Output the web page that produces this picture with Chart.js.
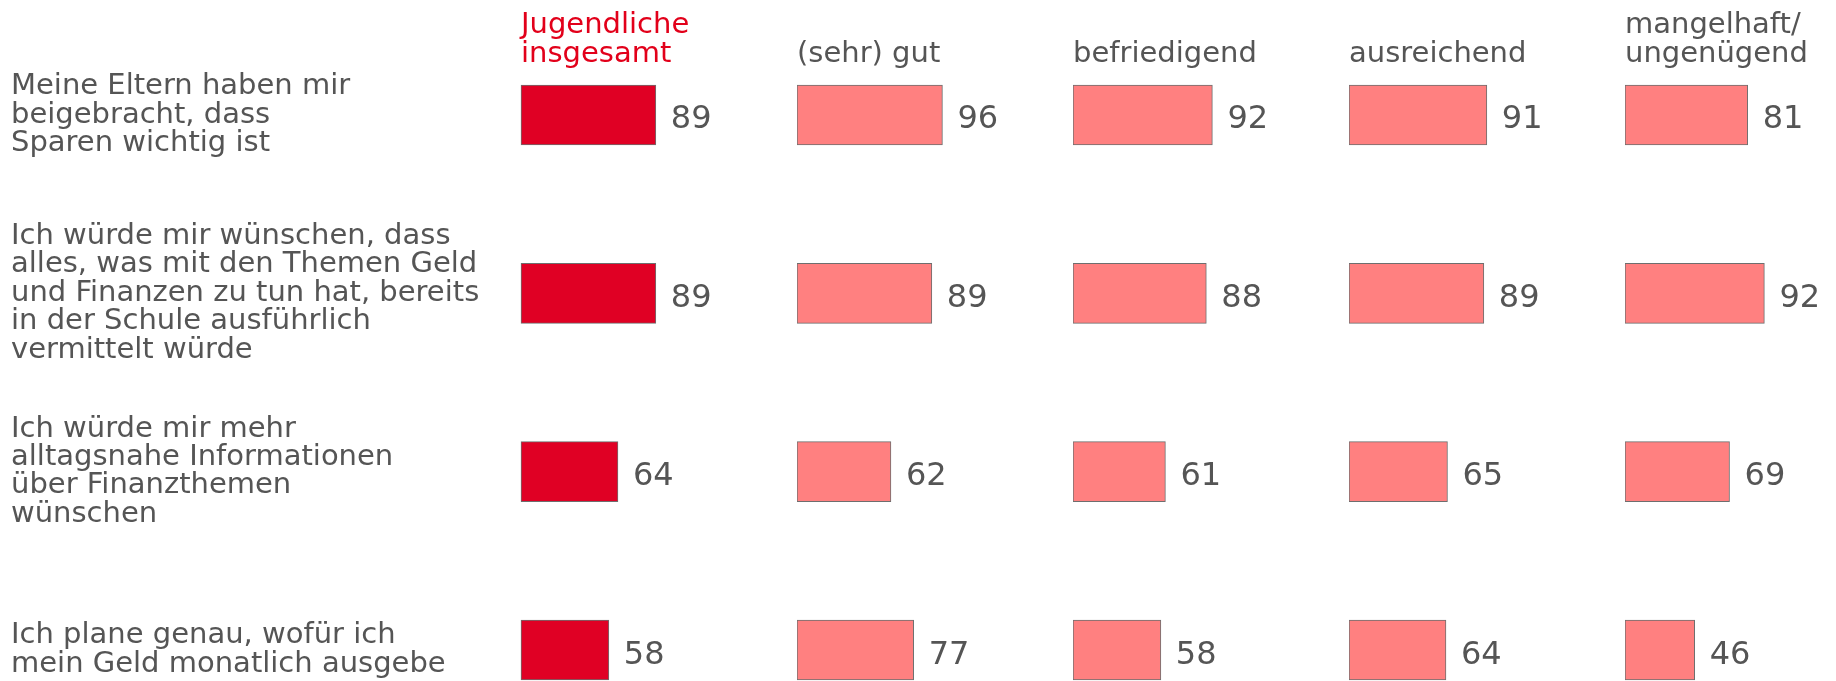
<!DOCTYPE html>
<html><head><meta charset="utf-8">
<script src="https://cdn.jsdelivr.net/npm/chart.js@4"></script>
<style>
html,body{margin:0;padding:0;background:#fff;overflow:hidden;width:1836px;height:681px;position:relative;}
canvas{position:absolute;top:0;}
</style></head><body>
<canvas id="c0" width="797" height="681" style="left:0px"></canvas>
<canvas id="c1" width="276" height="681" style="left:797px"></canvas>
<canvas id="c2" width="276" height="681" style="left:1073px"></canvas>
<canvas id="c3" width="276" height="681" style="left:1349px"></canvas>
<canvas id="c4" width="276" height="681" style="left:1625px"></canvas>
<script>
// ---- data ----
const categories = [
  ["Meine Eltern haben mir", "beigebracht, dass", "Sparen wichtig ist"],
  ["Ich würde mir wünschen, dass", "alles, was mit den Themen Geld", "und Finanzen zu tun hat, bereits", "in der Schule ausführlich", "vermittelt würde"],
  ["Ich würde mir mehr", "alltagsnahe Informationen", "über Finanzthemen", "wünschen"],
  ["Ich plane genau, wofür ich", "mein Geld monatlich ausgebe"]
];
const groupHeaders = [["Jugendliche", "insgesamt"], ["(sehr) gut"], ["befriedigend"], ["ausreichend"], ["mangelhaft/", "ungenügend"]];
const insgesamt    = [89, 89, 64, 58];
const sehrGut      = [96, 89, 62, 77];
const befriedigend = [92, 88, 61, 58];
const ausreichend  = [91, 89, 65, 64];
const mangelhaft   = [81, 92, 69, 46];
const groupValues = [insgesamt, sehrGut, befriedigend, ausreichend, mangelhaft];

// ---- style ----
const FONT = 'DejaVu Sans';
const TEXT = '#555555';
const RED_TEXT = '#e2001a';
const barColors = ['#e00024', '#ff8080', '#ff8080', '#ff8080', '#ff8080'];
const headerColors = [RED_TEXT, TEXT, TEXT, TEXT, TEXT];
const areaWidth = 276;
const pxPerUnit = 1.515;

Chart.defaults.font.family = FONT;
Chart.defaults.animation = false;

const valueLabels = {
  id: 'valueLabels',
  afterDatasetsDraw(chart) {
    const ctx = chart.ctx;
    const meta = chart.getDatasetMeta(0);
    const data = chart.data.datasets[0].data;
    ctx.save();
    ctx.font = '32px "' + FONT + '"';
    ctx.fillStyle = TEXT;
    ctx.textAlign = 'left';
    ctx.textBaseline = 'alphabetic';
    meta.data.forEach((el, i) => {
      ctx.fillText(String(data[i]), el.x + 15, el.y + 13.5);
    });
    ctx.restore();
  }
};

groupValues.forEach((vals, g) => {
  const first = g === 0;
  const twoLine = groupHeaders[g].length > 1;
  new Chart(document.getElementById('c' + g), {
    type: 'bar',
    data: {
      labels: categories,
      datasets: [{
        data: vals,
        backgroundColor: barColors[g],
        borderColor: '#6e6e6e',
        borderWidth: 1,
        borderSkipped: false,
        barThickness: 60,
        clip: false
      }]
    },
    options: {
      indexAxis: 'y',
      responsive: false,
      layout: { padding: { left: first ? 11 : 0, right: 0, top: 0, bottom: 31 } },
      plugins: {
        legend: { display: false },
        tooltip: { enabled: false },
        title: {
          display: true,
          text: groupHeaders[g],
          align: 'start',
          fullSize: false,
          color: headerColors[g],
          font: { size: 29, weight: 'normal', lineHeight: 1.01 },
          padding: { top: twoLine ? 11 : 40.3, bottom: 45.4 }
        }
      },
      scales: {
        x: { display: false, min: 0, max: areaWidth / pxPerUnit },
        y: {
          display: first,
          offset: false,
          grid: { display: false },
          border: { display: false },
          ticks: {
            crossAlign: 'far',
            color: TEXT,
            padding: 0,
            font: { size: 29, lineHeight: 0.98 }
          },
          afterFit: (scale) => {
            if (first) scale.width = 510;
            scale.paddingTop = 0;
            scale.paddingBottom = 0;
          }
        }
      }
    },
    plugins: [valueLabels]
  });
});
</script>
</body></html>
